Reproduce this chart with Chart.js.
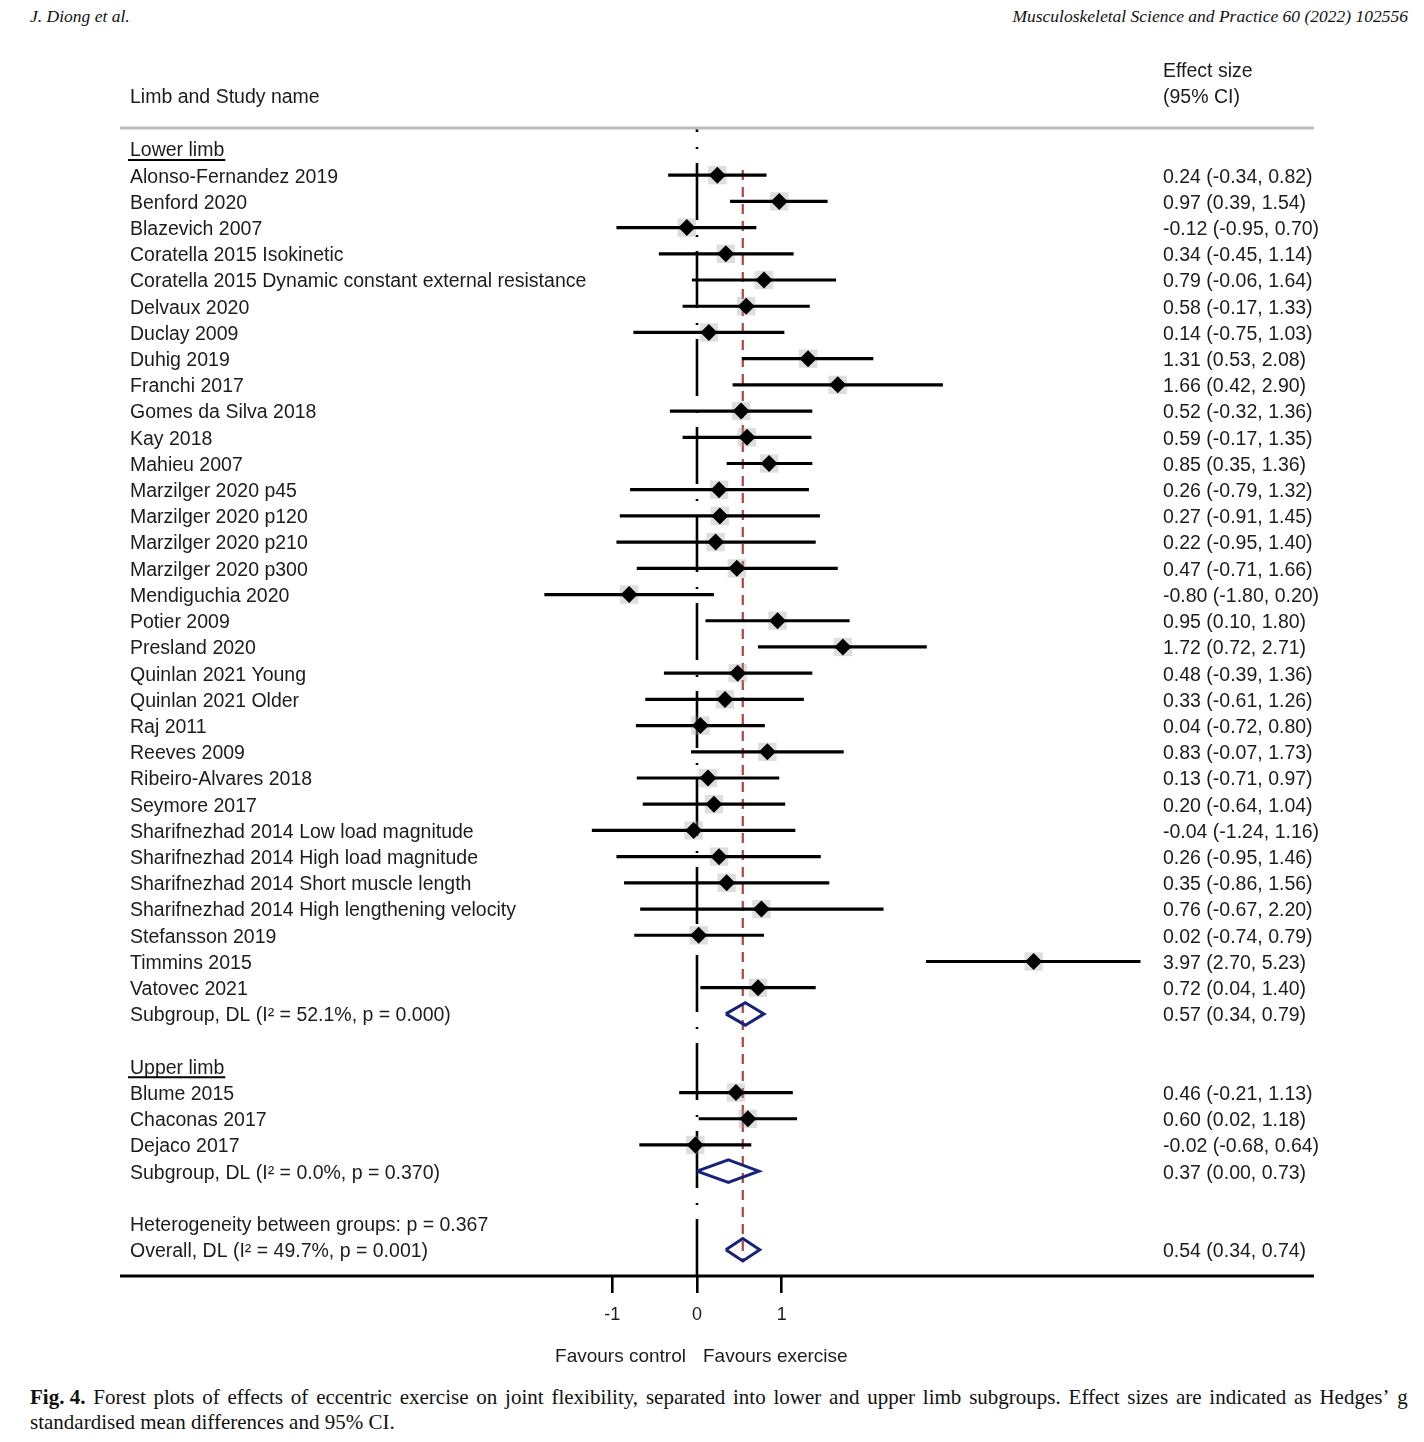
<!DOCTYPE html>
<html>
<head>
<meta charset="utf-8">
<script src="https://cdn.jsdelivr.net/npm/chart.js@4/dist/chart.umd.min.js"></script>
<style>
  html, body { margin: 0; padding: 0; background: #fff; }
  body { width: 1424px; height: 1442px; position: relative; overflow: hidden; }
  .hdr { position: absolute; top: 6px; font-family: "Liberation Serif", "DejaVu Serif", serif; font-style: italic; font-size: 17.5px; color: #111; }
  #hl { left: 30px; }
  #hr { right: 16px; }
  #wrap { position: absolute; left: 0; top: 0; width: 1424px; height: 1380px; }
  #cap { position: absolute; left: 30px; top: 1385px; width: 1378px; font-family: "Liberation Serif", "DejaVu Serif", serif; font-size: 21px; line-height: 25px; color: #111; }
  #cap .l1 { display: flex; justify-content: space-between; white-space: nowrap; }
</style>
</head>
<body>
<div class="hdr" id="hl">J. Diong et al.</div>
<div class="hdr" id="hr">Musculoskeletal Science and Practice 60 (2022) 102556</div>
<div id="wrap"><canvas id="c"></canvas></div>
<div id="cap">
  <div class="l1" id="l1">Fig. 4.|Forest plots of effects of eccentric exercise on joint flexibility, separated into lower and upper limb subgroups. Effect sizes are indicated as Hedges’ g</div>
  <div>standardised mean differences and 95% CI.</div>
</div>
<script>
// caption line 1: spread words across the full width (justified)
(function () {
  const el = document.getElementById('l1');
  const parts = el.textContent.split('|');
  el.textContent = '';
  const b = document.createElement('b'); b.textContent = parts[0]; el.appendChild(b);
  parts[1].split(' ').forEach(w => { const s = document.createElement('span'); s.textContent = w; el.appendChild(s); });
})();

// ---------------- DATA ----------------
const lowerStudies = [
  'Alonso-Fernandez 2019', 'Benford 2020', 'Blazevich 2007', 'Coratella 2015 Isokinetic',
  'Coratella 2015 Dynamic constant external resistance', 'Delvaux 2020', 'Duclay 2009', 'Duhig 2019',
  'Franchi 2017', 'Gomes da Silva 2018', 'Kay 2018', 'Mahieu 2007', 'Marzilger 2020 p45',
  'Marzilger 2020 p120', 'Marzilger 2020 p210', 'Marzilger 2020 p300', 'Mendiguchia 2020',
  'Potier 2009', 'Presland 2020', 'Quinlan 2021 Young', 'Quinlan 2021 Older', 'Raj 2011',
  'Reeves 2009', 'Ribeiro-Alvares 2018', 'Seymore 2017', 'Sharifnezhad 2014 Low load magnitude',
  'Sharifnezhad 2014 High load magnitude', 'Sharifnezhad 2014 Short muscle length',
  'Sharifnezhad 2014 High lengthening velocity', 'Stefansson 2019', 'Timmins 2015', 'Vatovec 2021'
];
const lowerES = [0.24, 0.97, -0.12, 0.34, 0.79, 0.58, 0.14, 1.31, 1.66, 0.52, 0.59, 0.85, 0.26, 0.27, 0.22, 0.47,
  -0.80, 0.95, 1.72, 0.48, 0.33, 0.04, 0.83, 0.13, 0.20, -0.04, 0.26, 0.35, 0.76, 0.02, 3.97, 0.72];
const lowerLo = [-0.34, 0.39, -0.95, -0.45, -0.06, -0.17, -0.75, 0.53, 0.42, -0.32, -0.17, 0.35, -0.79, -0.91, -0.95, -0.71,
  -1.80, 0.10, 0.72, -0.39, -0.61, -0.72, -0.07, -0.71, -0.64, -1.24, -0.95, -0.86, -0.67, -0.74, 2.70, 0.04];
const lowerHi = [0.82, 1.54, 0.70, 1.14, 1.64, 1.33, 1.03, 2.08, 2.90, 1.36, 1.35, 1.36, 1.32, 1.45, 1.40, 1.66,
  0.20, 1.80, 2.71, 1.36, 1.26, 0.80, 1.73, 0.97, 1.04, 1.16, 1.46, 1.56, 2.20, 0.79, 5.23, 1.40];
const lowerSubgroupLabel = 'Subgroup, DL (I² = 52.1%, p = 0.000)';
const lowerSubgroup = [0.57, 0.34, 0.79];

const upperStudies = ['Blume 2015', 'Chaconas 2017', 'Dejaco 2017'];
const upperES = [0.46, 0.60, -0.02];
const upperLo = [-0.21, 0.02, -0.68];
const upperHi = [1.13, 1.18, 0.64];
const upperSubgroupLabel = 'Subgroup, DL (I² = 0.0%, p = 0.370)';
const upperSubgroup = [0.37, 0.00, 0.73];

const heterogeneityLabel = 'Heterogeneity between groups: p = 0.367';
const overallLabel = 'Overall, DL (I² = 49.7%, p = 0.001)';
const overall = [0.54, 0.34, 0.74];

const groupHeads = ['Lower limb', 'Upper limb'];
const xTickValues = [-1, 0, 1];
const favourLabels = ['Favours control', 'Favours exercise'];

// ---------------- ROWS ----------------
const rows = [];
rows.push({ label: groupHeads[0], kind: 'head' });
lowerStudies.forEach((n, i) => rows.push({ label: n, es: lowerES[i], lo: lowerLo[i], hi: lowerHi[i], kind: 'study' }));
rows.push({ label: lowerSubgroupLabel, es: lowerSubgroup[0], lo: lowerSubgroup[1], hi: lowerSubgroup[2], kind: 'sum' });
rows.push({ label: '', kind: 'blank' });
rows.push({ label: groupHeads[1], kind: 'head' });
upperStudies.forEach((n, i) => rows.push({ label: n, es: upperES[i], lo: upperLo[i], hi: upperHi[i], kind: 'study' }));
rows.push({ label: upperSubgroupLabel, es: upperSubgroup[0], lo: upperSubgroup[1], hi: upperSubgroup[2], kind: 'sum' });
rows.push({ label: '', kind: 'blank' });
rows.push({ label: heterogeneityLabel, kind: 'text' });
rows.push({ label: overallLabel, es: overall[0], lo: overall[1], hi: overall[2], kind: 'sum' });

const rowLabels = rows.map(r => r.label);
const effectLabels = rows.map(r => r.es == null ? '' : `${r.es.toFixed(2)} (${r.lo.toFixed(2)}, ${r.hi.toFixed(2)})`);

// ---------------- GEOMETRY (style) ----------------
const Y_MIN = -0.8, Y_MAX = 43.0;
const X_MIN = -6.804, X_MAX = 5.342;
const FONT = "'Liberation Sans', Arial, Helvetica, sans-serif";
const TEXT = '#1c1c1c';
const NAVY = '#16237a';

const studyPts = [], ciPts = [];
rows.forEach((r, i) => {
  if (r.kind === 'study') {
    studyPts.push({ x: r.es, y: i });
    ciPts.push({ x: r.lo, y: i }, { x: r.hi, y: i }, { x: null, y: null });
  }
});
const diamondSets = rows.map((r, i) => r.kind === 'sum' ? {
  type: 'scatter', showLine: true, fill: false, pointRadius: 0, borderColor: NAVY, borderWidth: 3,
  borderJoinStyle: 'miter', tension: 0, order: 1,
  data: [{ x: r.lo, y: i }, { x: r.es, y: i - 0.43 }, { x: r.hi, y: i }, { x: r.es, y: i + 0.43 }, { x: r.lo, y: i }]
} : null).filter(Boolean);

const datasets = [
  { label: 'est', data: studyPts, pointStyle: 'rectRot', pointRadius: 8.5, backgroundColor: '#000', borderWidth: 0, order: 0 },
  ...diamondSets,
  { label: 'ci', data: ciPts, showLine: true, spanGaps: false, pointRadius: 0, borderColor: '#000', borderWidth: 3.2, borderCapStyle: 'butt', order: 2 },
  { label: 'box', data: studyPts, pointStyle: 'rect', pointRadius: 13, backgroundColor: 'rgba(160,160,160,0.35)', borderWidth: 0, order: 3 },
  { label: 'ref', data: [{ x: overall[0], y: 0.8 }, { x: overall[0], y: 42.4 }], showLine: true, pointRadius: 0,
    borderColor: '#b5413f', borderWidth: 2.2, borderDash: [10, 7], order: 4 },
  { label: 'null', data: [{ x: 0, y: Y_MIN }, { x: 0, y: Y_MAX }], showLine: true, pointRadius: 0,
    borderColor: '#000', borderWidth: 2.6, borderDash: [57, 15, 2, 14], borderDashOffset: 53, borderCapStyle: 'butt', order: 5 }
];

const rowTicks = (axis) => { axis.ticks = rows.map((_, i) => ({ value: i })); };

const decor = {
  id: 'decor',
  afterDraw(chart) {
    const { ctx, chartArea, scales } = chart;
    const L = chartArea.left, R = 1314;
    ctx.save();
    ctx.strokeStyle = '#bdbdbd'; ctx.lineWidth = 3;
    ctx.beginPath(); ctx.moveTo(L, chartArea.top); ctx.lineTo(R, chartArea.top); ctx.stroke();
    ctx.strokeStyle = '#000'; ctx.lineWidth = 3;
    ctx.beginPath(); ctx.moveTo(L, chartArea.bottom); ctx.lineTo(R, chartArea.bottom); ctx.stroke();
    ctx.fillStyle = TEXT; ctx.textBaseline = 'middle'; ctx.textAlign = 'left';
    ctx.font = `19.5px ${FONT}`;
    ctx.fillText('Limb and Study name', 130, 98);
    ctx.fillText('Effect size', 1163, 72);
    ctx.fillText('(95% CI)', 1163, 98);
    ctx.strokeStyle = '#000'; ctx.lineWidth = 2;
    rows.forEach((r, i) => {
      if (r.kind === 'head') {
        const y = scales.y.getPixelForValue(i) + 11;
        const w = ctx.measureText(r.label).width;
        ctx.beginPath(); ctx.moveTo(128, y); ctx.lineTo(130 + w + 1, y); ctx.stroke();
      }
    });
    const x0 = scales.x.getPixelForValue(0);
    ctx.font = `19px ${FONT}`;
    ctx.textAlign = 'right'; ctx.fillText(favourLabels[0], x0 - 11, 1357);
    ctx.textAlign = 'left'; ctx.fillText(favourLabels[1], x0 + 6, 1357);
    ctx.restore();
  }
};

new Chart(document.getElementById('c'), {
  type: 'scatter',
  data: { datasets },
  options: {
    responsive: true, maintainAspectRatio: false, animation: false, events: [],
    layout: { padding: { left: 120, right: 74, top: 128, bottom: 44 } },
    plugins: { legend: { display: false }, tooltip: { enabled: false } },
    scales: {
      x: {
        type: 'linear', position: 'bottom', min: X_MIN, max: X_MAX,
        afterBuildTicks: (a) => { a.ticks = xTickValues.map(v => ({ value: v })); },
        afterFit: (a) => { a.height = 60; },
        grid: { display: true, drawOnChartArea: false, drawTicks: true, tickLength: 17, color: '#000', lineWidth: 2.6 },
        border: { display: false },
        ticks: { autoSkip: false, maxRotation: 0, padding: 11, color: TEXT, font: { family: FONT, size: 18 } }
      },
      y: {
        type: 'linear', position: 'left', reverse: true, min: Y_MIN, max: Y_MAX,
        afterBuildTicks: rowTicks,
        afterFit: (a) => { a.width = 0; },
        grid: { display: false, drawTicks: false }, border: { display: false },
        ticks: { autoSkip: false, mirror: true, crossAlign: 'near', padding: 10, labelOffset: 2, color: TEXT,
          font: { family: FONT, size: 19.5 }, callback: (v) => rowLabels[v] ?? '' }
      },
      y2: {
        type: 'linear', position: 'right', reverse: true, min: Y_MIN, max: Y_MAX,
        afterBuildTicks: rowTicks,
        afterFit: (a) => { a.width = 200; },
        grid: { display: false, drawTicks: false }, border: { display: false },
        ticks: { autoSkip: false, crossAlign: 'near', padding: 13, labelOffset: 2, color: TEXT,
          font: { family: FONT, size: 19.5 }, callback: (v) => effectLabels[v] ?? '' }
      }
    }
  },
  plugins: [decor]
});
</script>
</body>
</html>
